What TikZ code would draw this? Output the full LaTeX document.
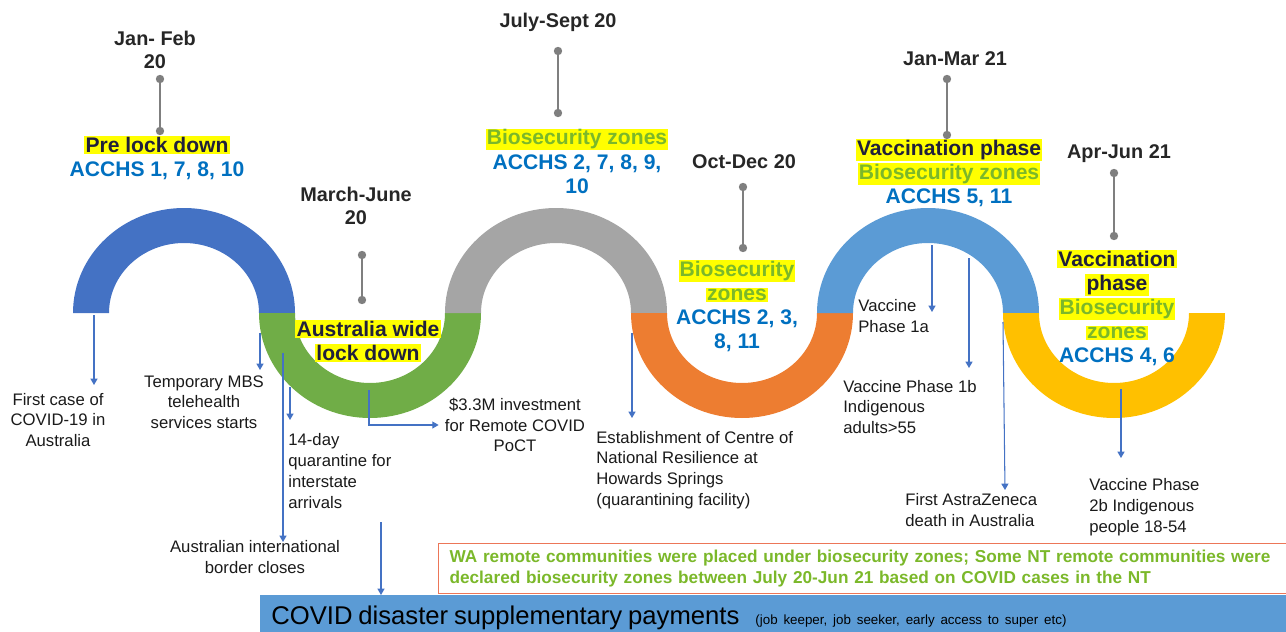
\documentclass[tikz,border=0pt]{standalone}
\usepackage{fontspec}
\setmainfont{Liberation Sans}
\usetikzlibrary{arrows.meta}

% Couleurs des anneaux
\definecolor{ringColor1}{HTML}{4472C4}
\definecolor{ringColor2}{HTML}{70AD47}
\definecolor{ringColor3}{HTML}{A5A5A5}
\definecolor{ringColor4}{HTML}{ED7D31}
\definecolor{ringColor5}{HTML}{5B9BD5}
\definecolor{ringColor6}{HTML}{FFC000}
% Couleurs des textes et traits
\definecolor{dateText}{HTML}{262626}
\definecolor{phaseText}{HTML}{20203C}
\definecolor{noteText}{HTML}{1A1A1A}
\definecolor{acchsBlue}{HTML}{0070C0}
\definecolor{bioGreen}{HTML}{7BB82A}
\definecolor{hlYellow}{HTML}{FFFF00}
\definecolor{pinGray}{HTML}{7F7F7F}
\definecolor{arrowBlue}{HTML}{4472C4}
\definecolor{boxRed}{HTML}{EC7658}
\definecolor{payBlue}{HTML}{5B9BD5}

% Surlignage et couleurs de texte
\newcommand{\hlText}[1]{{\setlength{\fboxsep}{0.6pt}\colorbox{hlYellow}{#1}}}
\newcommand{\bioText}[1]{\hlText{\textcolor{bioGreen}{#1}}}
\newcommand{\acchsText}[1]{\textcolor{acchsBlue}{#1}}

\begin{document}
\begin{tikzpicture}[x=0.02cm, y=-0.02cm,
  dateLabel/.style={font=\bfseries\fontsize{11.3}{13}\selectfont, text=dateText, align=center, inner sep=0pt},
  phaseLabel/.style={font=\bfseries\fontsize{12}{13.7}\selectfont, text=phaseText, align=center, inner sep=0pt},
  noteLabel/.style={font=\fontsize{9.5}{11.8}\selectfont, text=noteText, inner sep=0pt},
  noteArrow/.style={draw=arrowBlue, line width=0.6pt, -{Triangle[width=4pt,length=3.6pt]}},
  pinLine/.style={draw=pinGray, line width=0.9pt},
  bioBox/.style={draw=boxRed, line width=0.6pt, text=bioGreen, font=\bfseries\fontsize{9.8}{12}\selectfont,
    align=left, text width=16.7cm, inner xsep=0.22cm, minimum height=1cm},
  payBox/.style={fill=payBlue, text=black, align=left, text width=20.4cm, inner xsep=0.22cm,
    inner ysep=0pt, text depth=0pt, minimum height=0.8cm}]
  \useasboundingbox (0,0) rectangle (1286,632);

  % Anneaux de la frise
  \foreach \i/\col/\endAngle in {0/ringColor1/360, 1/ringColor2/0, 2/ringColor3/360,
                                 3/ringColor4/0, 4/ringColor5/360, 5/ringColor6/0}
  {
    \pgfmathsetmacro{\cx}{184+186*\i}
    \fill[\col] ({\cx-111},313) arc[start angle=180, end angle=\endAngle, x radius=111, y radius=105]
      -- ({\cx+75},313) arc[start angle=\endAngle, end angle=180, x radius=75, y radius=70] -- cycle;
  }

  % Epingles des dates
  \foreach \px/\pa/\pb in {160/79/131, 362/255/300, 558/51/113, 743/187/248, 947/79/135, 1114/173/236}
  {
    \draw[pinLine] (\px,\pa) -- (\px,\pb);
    \fill[pinGray] (\px,\pa) circle[radius=4.2] (\px,\pb) circle[radius=4.2];
  }

  % Dates
  \node[dateLabel] (janFeb) at (155,50) {Jan- Feb\\20};
  \node[dateLabel] (marJun) at (356,206) {March-June\\20};
  \node[dateLabel] (julSep) at (558,22) {July-Sept 20};
  \node[dateLabel] (octDec) at (744,162) {Oct-Dec 20};
  \node[dateLabel] (janMar) at (955,59) {Jan-Mar 21};
  \node[dateLabel] (aprJun) at (1119,154) {Apr-Jun 21};

  % Phases
  \node[phaseLabel] (preLock) at (157,158) {\hlText{Pre lock down}\\\acchsText{ACCHS 1, 7, 8, 10}};
  \node[phaseLabel] (ausLock) at (368,341) {\hlText{Australia wide}\\\hlText{lock down}};
  \node[phaseLabel] (bioZoneA) at (577,161) {\bioText{Biosecurity zones}\\\acchsText{ACCHS 2, 7, 8, 9,}\\\acchsText{10}};
  \node[phaseLabel] (bioZoneB) at (737,306) {\bioText{Biosecurity}\\\bioText{zones}\\\acchsText{ACCHS 2, 3,}\\\acchsText{8, 11}};
  \node[phaseLabel] (vacPhaseA) at (949,173) {\hlText{Vaccination phase}\\\bioText{Biosecurity zones}\\\acchsText{ACCHS 5, 11}};
  \node[phaseLabel] (vacPhaseB) at (1117,308) {\hlText{Vaccination}\\\hlText{phase}\\\bioText{Biosecurity}\\\bioText{zones}\\\acchsText{ACCHS 4, 6}};

  % Evenements
  \node[noteLabel, align=center] (firstCase) at (58,420) {First case of\\COVID-19 in\\Australia};
  \node[noteLabel, align=center] (mbsTele) at (204,402) {Temporary MBS\\telehealth\\services starts};
  \node[noteLabel, align=center] (borderClose) at (255,557) {Australian international\\border closes};
  \node[noteLabel, align=left, anchor=west] (quarDay) at (288,471) {14-day\\quarantine for\\interstate\\arrivals};
  \node[noteLabel, align=center] (pocInvest) at (515,425) {\$3.3M investment\\for Remote COVID\\PoCT};
  \node[noteLabel, align=left, anchor=west] (cnrHoward) at (596,470) {Establishment of Centre of\\National Resilience at\\Howards Springs\\(quarantining facility)};
  \node[noteLabel, align=left, anchor=west] (vacOneA) at (858,316) {Vaccine\\Phase 1a};
  \node[noteLabel, align=left, anchor=west] (vacOneB) at (843,407) {Vaccine Phase 1b\\Indigenous\\adults>55};
  \node[noteLabel, align=left, anchor=west] (azDeath) at (905,510) {First AstraZeneca\\death in Australia};
  \node[noteLabel, align=left, anchor=west] (vacTwoB) at (1089,507) {Vaccine Phase\\2b Indigenous\\people 18-54};

  % Cadre des zones de biosecurite et bandeau des paiements
  \node[bioBox, anchor=north west] (bioNote) at (438,543) {WA remote communities were placed under biosecurity zones; Some NT remote communities were\\declared biosecurity zones between July 20-Jun 21 based on COVID cases in the NT};
  \node[payBox, anchor=north west] (payBar) at (260,595) {\mbox{\fontsize{14.6}{16}\selectfont COVID disaster supplementary payments}\hspace{0.32cm}\mbox{\fontsize{7.6}{8}\selectfont (job keeper, job seeker, early access to super etc)}};

  % Fleches verticales
  \foreach \n/\ax/\ya/\yb in {1/94/315/385, 2/260/333/370, 3/283/353/542, 4/290/387/420,
                               7/632/333/418, 8/932/245/312, 9/969/258/368, 11/1121/389/458}
  {
    \coordinate (arrowStart\n) at (\ax,\ya);
    \coordinate (arrowEnd\n) at (\ax,\yb);
    \draw[noteArrow] (arrowStart\n) -- (arrowEnd\n);
  }
  \coordinate (arrowStart10) at (1003,322);
  \coordinate (arrowEnd10) at (1005,490);
  \draw[noteArrow] (arrowStart10) -- (arrowEnd10);

  % Fleches vers les noeuds
  \coordinate (arrowStart5) at (369,390);
  \draw[noteArrow] (arrowStart5) |- ([xshift=-0.12cm]pocInvest.west);
  \coordinate (arrowStart6) at (381,522);
  \draw[noteArrow] (arrowStart6) -- (arrowStart6 |- payBar.north);
\end{tikzpicture}
\end{document}
